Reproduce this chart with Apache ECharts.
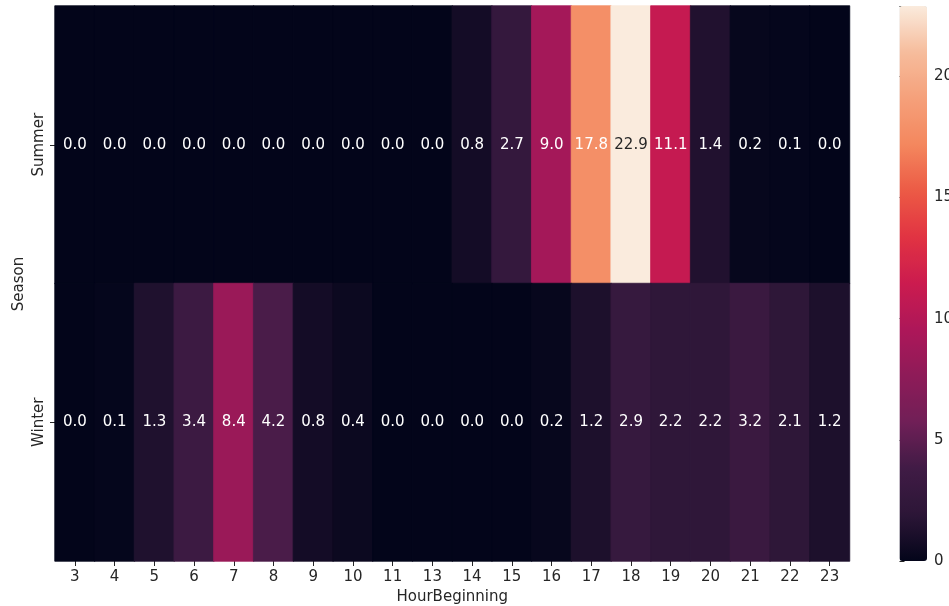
<!DOCTYPE html>
<html>
<head>
<meta charset="utf-8">
<script src="https://cdn.jsdelivr.net/npm/echarts@6/dist/echarts.min.js"></script>
<style>
html,body{margin:0;padding:0;background:#fff;}
#c{width:949px;height:606px;}
</style>
</head>
<body>
<div id="c"></div>
<script>
const hours = ['3','4','5','6','7','8','9','10','11','13','14','15','16','17','18','19','20','21','22','23'];
const seasons = ['Summer','Winter'];
const summer = [0.0,0.0,0.0,0.0,0.0,0.0,0.0,0.0,0.0,0.0,0.8,2.7,9.0,17.8,22.9,11.1,1.4,0.2,0.1,0.0];
const winter = [0.0,0.1,1.3,3.4,8.4,4.2,0.8,0.4,0.0,0.0,0.0,0.0,0.2,1.2,2.9,2.2,2.2,3.2,2.1,1.2];
const colorTicks = [0,5,10,15,20];

const rocket = ['#03051a','#2c1637','#401b45','#701f57','#8e1b58','#ad1759','#cb1b4f','#e13342','#ec5a45','#f4875e','#f5a07a','#f6bc9c','#faebdd'];
const vmax = Math.max(...summer, ...winter);
const vmin = 0;

function hex2rgb(h){return [parseInt(h.substr(1,2),16),parseInt(h.substr(3,2),16),parseInt(h.substr(5,2),16)];}
function colorAt(v){
  let t=(v-vmin)/(vmax-vmin); t=Math.max(0,Math.min(1,t));
  const n=rocket.length-1; const p=t*n; const i=Math.min(Math.floor(p),n-1); const f=p-i;
  const a=hex2rgb(rocket[i]), b=hex2rgb(rocket[i+1]);
  return a.map((x,k)=>Math.round(x+(b[k]-x)*f));
}
function lum(rgb){
  const c=rgb.map(x=>{x/=255;return x<=0.03928?x/12.92:Math.pow((x+0.055)/1.055,2.4);});
  return 0.2126*c[0]+0.7152*c[1]+0.0722*c[2];
}
const data=[];
[summer,winter].forEach((row,ri)=>{
  row.forEach((v,ci)=>{
    const rgb=colorAt(v);
    const dark = lum(rgb)>0.408;
    data.push({value:[ci,ri,v],
      itemStyle:{borderColor:'rgb('+rgb.join(',')+')',borderWidth:0.8},
      label:{color:dark?'#262626':'#ffffff'}});
  });
});

const font='DejaVu Sans';
const chart=echarts.init(document.getElementById('c'),null,{renderer:'canvas'});
chart.setOption({
  animation:false,
  textStyle:{fontFamily:font},
  grid:[
    {left:55,right:99.5,top:6,bottom:45,containLabel:false,outerBoundsMode:'none'},
    {left:899.5,width:27.5,top:6,bottom:45,containLabel:false,outerBoundsMode:'none'}
  ],
  graphic:[
    {type:'text',x:19,y:284,rotation:Math.PI/2,silent:true,
     style:{text:'Season',fill:'#262626',font:'15px "DejaVu Sans"',
            align:'center',verticalAlign:'middle',textAlign:'center',textVerticalAlign:'middle'}}
  ],
  xAxis:[
    {type:'category',data:hours,gridIndex:0,
     name:'HourBeginning',nameLocation:'middle',nameGap:29,
     nameTextStyle:{fontSize:15,color:'#262626',fontFamily:font},
     axisLine:{show:false},
     axisTick:{show:true,alignWithLabel:true,length:5,lineStyle:{color:'#262626'}},
     axisLabel:{fontSize:15,color:'#262626',fontFamily:font,margin:9},
     splitLine:{show:false}},
    {type:'value',gridIndex:1,show:false,min:0,max:1}
  ],
  yAxis:[
    {type:'category',data:seasons,inverse:true,gridIndex:0,
     axisLine:{show:false},
     axisTick:{show:true,alignWithLabel:true,length:5,lineStyle:{color:'#262626'}},
     axisLabel:{fontSize:15,color:'#262626',fontFamily:font,rotate:90,margin:8},
     splitLine:{show:false}},
    {type:'value',gridIndex:1,position:'right',min:0,max:vmax,interval:5,
     axisLine:{show:false},
     axisTick:{show:true,length:5,lineStyle:{color:'#262626'}},
     axisLabel:{fontSize:15,color:'#262626',fontFamily:font,margin:7,
       formatter:v=>colorTicks.includes(v)?String(v):''},
     splitLine:{show:false}}
  ],
  visualMap:{
    type:'continuous',min:vmin,max:vmax,seriesIndex:0,
    calculable:false,show:true,
    orient:'vertical',left:899.5,top:6,itemWidth:27.5,itemHeight:555,
    text:['',''],textGap:0,padding:0,
    inRange:{color:rocket}
  },
  series:[
    {type:'heatmap',xAxisIndex:0,yAxisIndex:0,data:data,
     label:{show:true,fontSize:15,fontFamily:font,formatter:p=>p.value[2].toFixed(1)},
     emphasis:{disabled:true}},
    {type:'scatter',xAxisIndex:1,yAxisIndex:1,data:[],silent:true}
  ]
});
</script>
</body>
</html>
